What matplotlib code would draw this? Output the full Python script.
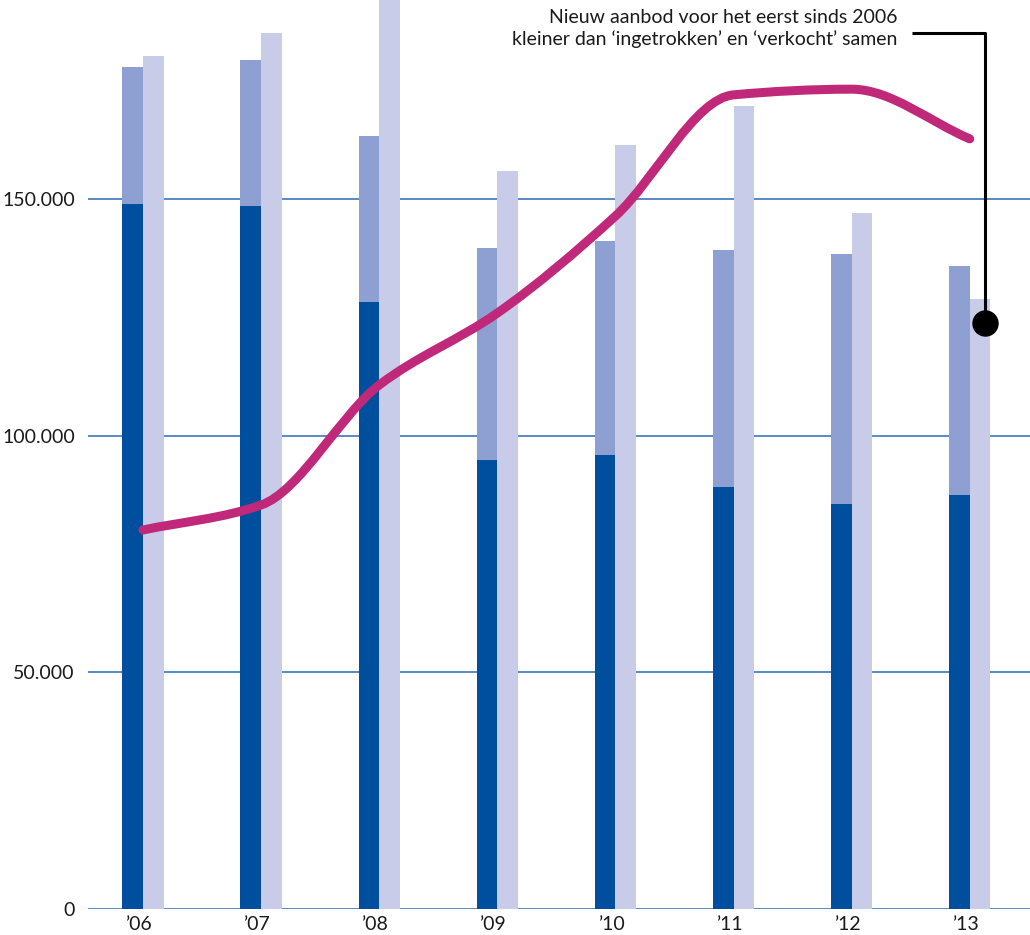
import numpy as np
import matplotlib
matplotlib.use("Agg")
import matplotlib.pyplot as plt
from matplotlib.path import Path
from matplotlib.patches import PathPatch

# Jaarlijkse woningmarktcijfers
years = ["’06", "’07", "’08", "’09", "’10", "’11", "’12", "’13"]
verkocht = [148950, 148500, 128200, 94860, 95900, 89150, 85550, 87450]
ingetrokken = [28950, 30900, 35100, 44790, 45200, 50050, 52850, 48400]
nieuw_aanbod = [180200, 185100, 195000, 155900, 161400, 169650, 147050, 128900]
te_koop = [80070, 85350, 110700, 125900, 146400, 172000, 173200, 162700]

yticks = [0, 50000, 100000, 150000]
ytick_labels = ["0", "50.000", "100.000", "150.000"]

note = "Nieuw aanbod voor het eerst sinds 2006\nkleiner dan ‘ingetrokken’ en ‘verkocht’ samen"
note_point = (7.13, 123800)

DARK = "#004f9f"
MID = "#8e9fd1"
LIGHT = "#c8cce9"
MAGENTA = "#c0297a"
GRID = "#4a80c0"
TEXT = "#1a1a1a"

plt.rcParams["font.family"] = ["Lato", "DejaVu Sans"]

fig = plt.figure(figsize=(10.30, 9.35), dpi=100)
ax = fig.add_axes([88 / 1030, 26 / 935, 942 / 1030, 909 / 935])

x = np.arange(len(years))
w = 0.175

ax.bar(x, verkocht, width=-w, align="edge", color=DARK, zorder=2)
ax.bar(x, ingetrokken, width=-w, align="edge", bottom=verkocht, color=MID, zorder=2)
ax.bar(x, nieuw_aanbod, width=w, align="edge", color=LIGHT, zorder=2)

# Smooth monotone cubic through the yearly values
xs = x.astype(float)
ys = np.array(te_koop, dtype=float)
h = np.diff(xs)
d = np.diff(ys) / h
m = np.zeros_like(ys)
m[0], m[-1] = d[0], d[-1]
for i in range(1, len(ys) - 1):
    if d[i - 1] * d[i] <= 0:
        m[i] = 0.0
    else:
        m[i] = 2.0 / (1.0 / d[i - 1] + 1.0 / d[i])
verts = [(xs[0], ys[0])]
codes = [Path.MOVETO]
for i in range(len(ys) - 1):
    hi = h[i] / 3.0
    verts += [(xs[i] + hi, ys[i] + hi * m[i]),
              (xs[i + 1] - hi, ys[i + 1] - hi * m[i + 1]),
              (xs[i + 1], ys[i + 1])]
    codes += [Path.CURVE4] * 3
ax.add_patch(PathPatch(Path(verts, codes), facecolor="none", edgecolor=MAGENTA,
                       lw=6.5, capstyle="round", joinstyle="round", zorder=4))

ax.set_xlim(-0.466, 7.51)
ax.set_ylim(0, 192040)

for yv in yticks:
    ax.axhline(yv, color=GRID, lw=1.3, zorder=1)

ax.set_yticks(yticks)
ax.set_yticklabels(ytick_labels)
ax.set_xticks(x - 0.03)
ax.set_xticklabels(years)
ax.tick_params(axis="both", length=0, labelsize=14, colors=TEXT)
ax.tick_params(axis="y", pad=9.5)
ax.tick_params(axis="x", pad=5)
for s in ax.spines.values():
    s.set_visible(False)

# Annotation: bracket from note to point
ax.plot([6.51, note_point[0], note_point[0]], [185070, 185070, note_point[1]],
        color="black", lw=2.2, zorder=5, solid_capstyle="butt", clip_on=False)
ax.plot([note_point[0]], [note_point[1]], "o", color="black", ms=18, zorder=6, clip_on=False)
ax.text(6.385, 186000, note, ha="right", va="center", fontsize=14, color=TEXT,
        linespacing=1.25, zorder=6)

fig.savefig("out.png", dpi=100)
